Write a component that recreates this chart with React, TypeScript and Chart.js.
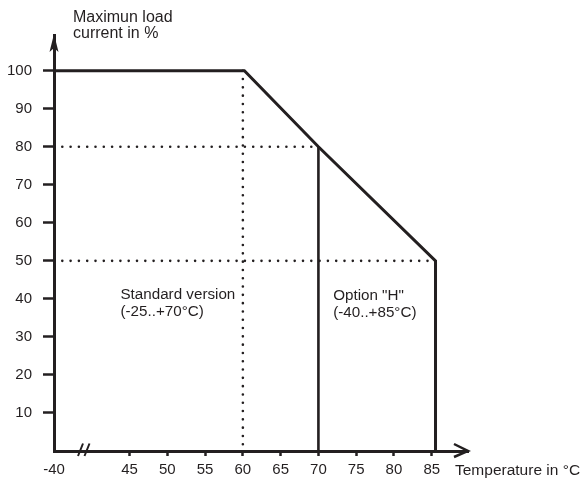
import React, { useEffect, useRef } from "react";
import { Chart, registerables } from "chart.js";

Chart.register(...registerables);

// ---- data ----
const xTickValues = [35, 45, 50, 55, 60, 65, 70, 75, 80, 85];
const xTickLabels = ["-40", "45", "50", "55", "60", "65", "70", "75", "80", "85"];
const yTickValues = [10, 20, 30, 40, 50, 60, 70, 80, 90, 100];

const deratingX = [35, 60.2, 70, 85.5, 85.5];
const deratingY = [100, 100, 80, 50, 0];
const optionHLimitX = [70, 70];
const optionHLimitY = [80, 0];
const standardLimitX = [60, 60];
const standardLimitY = [100, 0];
const level80X = [35, 70];
const level80Y = [80, 80];
const level50X = [35, 85.5];
const level50Y = [50, 50];

const yTitle = ["Maximun load", "current in %"];
const xTitle = "Temperature in °C";
const standardLabel = ["Standard version", "(-25..+70°C)"];
const optionLabel = ["Option \"H\"", "(-40..+85°C)"];
const standardLabelAt = [43.8, 39.9];
const optionLabelAt = [71.95, 39.7];

const INK = "#231f20";
const FONT = "'Liberation Sans', Arial, sans-serif";

const pts = (xs: number[], ys: number[]) => xs.map((x, i) => ({ x, y: ys[i] }));

const decor = {
  id: "decor",
  afterDraw(chart: any) {
    const { ctx, chartArea, scales } = chart;
    const x = scales.x;
    const y = scales.y;
    const x0 = chartArea.left;
    const y0 = y.getPixelForValue(0);
    ctx.save();
    ctx.fillStyle = INK;
    ctx.strokeStyle = INK;
    // y arrow
    const top = chartArea.top;
    ctx.beginPath();
    ctx.moveTo(x0, top - 1);
    ctx.lineTo(x0 - 4.5, top + 17);
    ctx.lineTo(x0, top + 13);
    ctx.lineTo(x0 + 4.5, top + 17);
    ctx.closePath();
    ctx.fill();
    // x arrow
    const right = chartArea.right;
    ctx.lineWidth = 2.5;
    ctx.lineJoin = "miter";
    ctx.beginPath();
    ctx.moveTo(right - 14, y0 - 7);
    ctx.lineTo(right, y0);
    ctx.lineTo(right - 14, y0 + 6);
    ctx.stroke();
    // axis break
    ctx.lineWidth = 2;
    ctx.beginPath();
    ctx.moveTo(x0 + 24, y0 + 5);
    ctx.lineTo(x0 + 29, y0 - 7.5);
    ctx.moveTo(x0 + 30.5, y0 + 5);
    ctx.lineTo(x0 + 35.5, y0 - 7.5);
    ctx.stroke();
    // texts
    ctx.textAlign = "left";
    ctx.textBaseline = "alphabetic";
    ctx.font = `16px ${FONT}`;
    ctx.fillText(yTitle[0], x0 + 19, 21.7);
    ctx.fillText(yTitle[1], x0 + 19, 38.4);
    ctx.font = `15.5px ${FONT}`;
    ctx.fillText(xTitle, 455, 475);
    ctx.font = `15.2px ${FONT}`;
    const sx = x.getPixelForValue(standardLabelAt[0]);
    const sy = y.getPixelForValue(standardLabelAt[1]);
    ctx.fillText(standardLabel[0], sx, sy);
    ctx.fillText(standardLabel[1], sx, sy + 16.7);
    const ox = x.getPixelForValue(optionLabelAt[0]);
    const oy = y.getPixelForValue(optionLabelAt[1]);
    ctx.fillText(optionLabel[0], ox, oy);
    ctx.fillText(optionLabel[1], ox, oy + 16.7);
    ctx.restore();
  },
};

export default function App() {
  const ref = useRef<HTMLCanvasElement>(null);
  useEffect(() => {
    document.body.style.margin = "0";
    const solid = (xs: number[], ys: number[], w: number) => ({
      data: pts(xs, ys),
      showLine: true,
      borderColor: INK,
      borderWidth: w,
      pointRadius: 0,
      borderJoinStyle: "miter" as const,
      borderCapStyle: "butt" as const,
      clip: false as any,
    });
    const dotted = (xs: number[], ys: number[]) => ({
      data: pts(xs, ys),
      showLine: true,
      borderColor: INK,
      borderWidth: 2.6,
      borderDash: [0, 8.3],
      borderCapStyle: "round" as const,
      pointRadius: 0,
      clip: false as any,
    });
    const chart = new Chart(ref.current!, {
      type: "scatter",
      data: {
        datasets: [
          dotted(standardLimitX, standardLimitY),
          dotted(level80X, level80Y),
          dotted(level50X, level50Y),
          solid(optionHLimitX, optionHLimitY, 2.6),
          solid(deratingX, deratingY, 3),
        ],
      },
      plugins: [decor],
      options: {
        animation: false,
        responsive: false,
        devicePixelRatio: 1,
        layout: { padding: { top: 35, right: 114, left: 0, bottom: 0 } },
        plugins: { legend: { display: false }, tooltip: { enabled: false } },
        scales: {
          x: {
            type: "linear",
            min: 35,
            max: 89.8,
            afterFit: (s: any) => {
              s.height = 28;
            },
            afterBuildTicks: (s: any) => {
              s.ticks = xTickValues.map((v) => ({ value: v }));
            },
            border: { display: true, color: INK, width: 3 },
            grid: {
              drawOnChartArea: false,
              drawTicks: true,
              tickLength: 5,
              tickWidth: 2.5,
              tickColor: (c: any) => (c.tick && c.tick.value === 35 ? "rgba(0,0,0,0)" : INK),
            },
            ticks: {
              autoSkip: false,
              maxRotation: 0,
              padding: 5,
              color: INK,
              font: { family: FONT, size: 15 },
              callback: (v: any) => {
                const i = xTickValues.indexOf(Number(v));
                return i >= 0 ? xTickLabels[i] : "";
              },
            },
          },
          y: {
            type: "linear",
            min: 0,
            max: 109.4,
            afterFit: (s: any) => {
              s.width = 54;
            },
            afterBuildTicks: (s: any) => {
              s.ticks = yTickValues.map((v) => ({ value: v }));
            },
            border: { display: true, color: INK, width: 3 },
            grid: {
              drawOnChartArea: false,
              drawTicks: true,
              tickLength: 11,
              tickWidth: 2.5,
              tickColor: INK,
            },
            ticks: {
              autoSkip: false,
              padding: 11,
              color: INK,
              font: { family: FONT, size: 15 },
              callback: (v: any) => String(v),
            },
          },
        },
      },
    });
    return () => chart.destroy();
  }, []);
  return (
    <div style={{ position: "fixed", left: 0, top: 0, width: 582, height: 479, background: "#fff" }}>
      <canvas ref={ref} width={582} height={479} style={{ width: 582, height: 479 }} />
    </div>
  );
}
